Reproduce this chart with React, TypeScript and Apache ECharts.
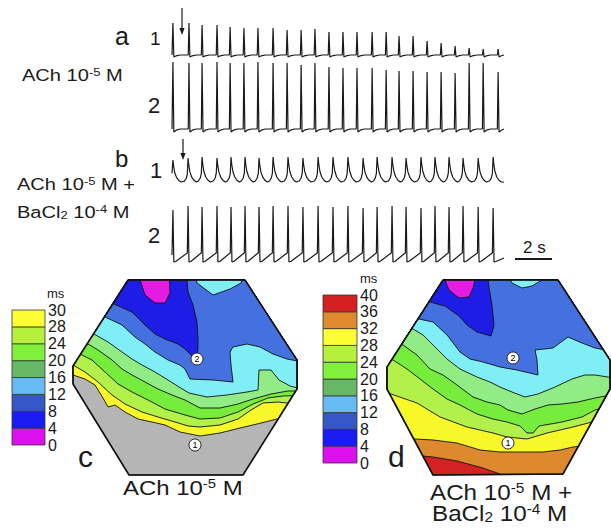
import React, { useEffect, useRef } from "react";
import * as echarts from "echarts";

// ---------- Trace data (time in s, amplitude in arbitrary units) ----------
const TRACE_SPAN_S = 18;
const A_BEAT_TIMES = [0.05, 0.92, 1.63, 2.44, 3.15, 3.9, 4.66, 5.48, 6.24, 7.0, 7.75, 8.51, 9.27, 10.03, 10.85, 11.61, 12.31, 13.07, 13.83, 14.59, 15.35, 16.11, 16.87, 17.68];
const A1_AMPLITUDES = [32, 32, 30, 30, 28, 27, 27, 27, 25, 25, 26, 23, 23, 23, 23, 23, 19, 19, 14, 12, 9, 7, 6, 6];
const A2_AMPLITUDES = [67, 66, 66, 67, 66, 66, 67, 66, 66, 64, 66, 62, 61, 61, 61, 59, 58, 58, 57, 57, 56, 66, 66, 57];
const B_BEAT_TIMES = [0.05, 0.87, 1.63, 2.44, 3.2, 3.96, 4.72, 5.48, 6.29, 7.1, 7.92, 8.73, 9.54, 10.36, 11.12, 11.93, 12.69, 13.5, 14.26, 15.02, 15.78, 16.6, 17.41];
const B1_AMPLITUDES = [22, 24, 25, 24, 25, 25, 24, 25, 25, 24, 25, 25, 25, 24, 25, 25, 24, 25, 25, 25, 24, 24, 25];
const B2_AMPLITUDES = [48, 52, 51, 52, 51, 52, 51, 52, 52, 51, 52, 51, 52, 50, 51, 52, 51, 50, 52, 51, 52, 51, 50];

// ---------- Activation maps (map coordinates, y downward) ----------
const HEX_C = [[55, 0], [172, 0], [224, 80], [224, 109], [170, 195], [56, 195], [0, 104], [0, 86]];
const HEX_D = [[56, 0], [171, 0], [223, 80], [223, 109], [176, 194], [46, 195], [0, 109], [0, 87]];

// isochrones: region above each line is earlier than the level (ms)
const C_ISO_4 = [[66, -10], [67, 0], [72, 15], [82, 23], [92, 23], [97, 13], [96, -10]];
const C_ISO_8 = [[-10, 18], [41, 24], [59, 32], [72, 45], [82, 54], [92, 59], [105, 64], [112, 69], [122, 79], [125, 70], [125, 59], [124, 42], [120, 25], [115, 12], [113, -10]];
const C_ISO_12 = [[-10, 33], [32, 37], [49, 45], [62, 57], [72, 64], [82, 72], [95, 80], [107, 85], [112, 89], [117, 99], [140, 100], [160, 102], [158, 85], [157, 72], [160, 67], [174, 64], [187, 67], [200, 74], [214, 79], [240, 84], [240, -10], [174, -10], [168, 3], [157, 9], [140, 15], [124, 3], [121, -10]];
const C_ISO_16 = [[-10, 50], [21, 54], [35, 62], [49, 72], [59, 79], [69, 85], [82, 92], [95, 100], [106, 107], [116, 113], [134, 117], [154, 115], [174, 112], [185, 110], [186, 90], [198, 90], [206, 100], [217, 106], [240, 112]];
const C_ISO_20 = [[-10, 60], [15, 64], [25, 70], [39, 80], [49, 89], [59, 95], [72, 102], [85, 109], [99, 115], [112, 120], [127, 128], [147, 128], [165, 124], [180, 119], [198, 114], [215, 111], [240, 111]];
const C_ISO_24 = [[-10, 72], [7, 74], [19, 80], [32, 92], [45, 104], [59, 112], [75, 120], [92, 129], [112, 135], [127, 139], [147, 138], [165, 132], [180, 124], [195, 118], [210, 116], [240, 115]];
const C_ISO_28 = [[-10, 82], [0, 85], [12, 92], [25, 102], [39, 115], [52, 124], [69, 132], [85, 137], [102, 142], [115, 146], [127, 147], [147, 145], [165, 139], [178, 130], [190, 123], [205, 122], [240, 126]];
const C_ISO_30 = [[-10, 92], [0, 95], [12, 99], [22, 105], [30, 118], [35, 127], [42, 125], [52, 132], [65, 139], [79, 142], [92, 145], [107, 152], [127, 156], [147, 153], [167, 148], [184, 144], [204, 139], [240, 133]];

const D_ISO_4 = [[56, -10], [58, 0], [62, 10], [72, 18], [82, 17], [86, 8], [88, 0], [88, -10]];
const D_ISO_8 = [[-10, 15], [43, 22], [58, 26], [72, 36], [80, 45], [90, 52], [104, 56], [107, 45], [105, 25], [102, 8], [100, -10]];
const D_ISO_12 = [[-10, 35], [32, 39], [46, 42], [60, 55], [73, 72], [83, 79], [96, 82], [113, 87], [130, 90], [151, 95], [150, 80], [148, 70], [166, 68], [181, 57], [195, 63], [208, 68], [240, 74], [240, -10], [160, -10], [155, 0], [145, 6], [135, 8], [125, 3], [118, -10]];
const D_ISO_16 = [[-10, 46], [26, 49], [36, 55], [46, 65], [60, 79], [73, 89], [90, 97], [103, 102], [113, 107], [125, 112], [138, 117], [151, 114], [168, 107], [185, 99], [198, 95], [208, 95], [240, 100]];
const D_ISO_20 = [[-10, 62], [16, 65], [30, 75], [43, 89], [56, 95], [70, 105], [86, 117], [100, 122], [113, 125], [121, 130], [135, 134], [148, 129], [161, 125], [175, 124], [191, 122], [208, 118], [240, 112]];
const D_ISO_24 = [[-10, 78], [6, 80], [20, 89], [33, 99], [46, 109], [60, 119], [73, 125], [90, 134], [106, 139], [120, 142], [133, 146], [140, 153], [146, 153], [152, 146], [175, 142], [195, 137], [208, 130], [240, 122]];
const D_ISO_28 = [[-10, 110], [1, 113], [30, 123], [53, 137], [80, 147], [106, 153], [120, 157], [140, 159], [160, 153], [186, 147], [205, 142], [240, 138]];
const D_ISO_32 = [[-10, 158], [28, 159], [46, 160], [70, 163], [93, 170], [113, 172], [133, 172], [156, 172], [173, 170], [186, 167], [240, 160]];
const D_ISO_36 = [[-10, 170], [36, 176], [46, 177], [70, 181], [96, 188], [113, 194], [130, 210], [250, 210], [250, -10]];

const C_SITES = [[124, 79], [122, 165]];
const D_SITES = [[126, 78], [121, 163]];
const SITE_LABELS = ["2", "1"];

// ---------- Colour scales ----------
const CB_C_LABELS = ["0", "4", "8", "12", "16", "20", "24", "28", "30"];
const CB_D_LABELS = ["0", "4", "8", "12", "16", "20", "24", "28", "32", "36", "40"];
const CB_COLORS = ["#dd11ee", "#1a1af2", "#3657c8", "#66bbf5", "#66b866", "#80f03a", "#b4f03c", "#ffff33", "#e08a30", "#d42020"];
const MAP_COLORS = ["#e31be3", "#1d1de6", "#4470e0", "#80eef5", "#92ec86", "#76ec3c", "#b2f04a", "#f7f72a", "#dd8a2e", "#d42222"];
const MAP_GRAY = "#b5b5b5";

const FONT = "'Liberation Sans', Arial, Helvetica, sans-serif";
const INK = "#1a1a1a";

// ---------- helpers ----------
function spikeTrace(times: number[], amps: number[], under: number) {
  const pts: number[][] = [[0, 0]];
  times.forEach((t, i) => {
    pts.push([t - 0.04, 0], [t, amps[i]], [t + 0.05, -under], [t + 0.18, -under * 0.4], [t + 0.4, 0]);
  });
  pts.push([TRACE_SPAN_S, 0]);
  return pts.filter((p) => p[0] >= 0 && p[0] <= TRACE_SPAN_S);
}
function slowTrace(times: number[], amps: number[]) {
  const pts: number[][] = [[0, amps[0] * 0.4]];
  times.forEach((t, i) => {
    const A = amps[i];
    const tn = i + 1 < times.length ? times[i + 1] : TRACE_SPAN_S + 1;
    pts.push([t, A], [t + 0.04, A * 0.7], [t + 0.1, A * 0.42], [t + 0.2, A * 0.2], [t + 0.32, A * 0.07], [t + 0.45, 0]);
    pts.push([tn - 0.2, A * 0.04], [tn - 0.1, A * 0.16], [tn - 0.04, A * 0.35]);
  });
  const out = pts.filter((p) => p[0] >= 0 && p[0] <= TRACE_SPAN_S);
  out.push([TRACE_SPAN_S, 0]);
  return out;
}
function notchTrace(times: number[], amps: number[]) {
  const pts: number[][] = [[0, 3]];
  times.forEach((t, i) => {
    const A = amps[i];
    const tn = i + 1 < times.length ? times[i + 1] : TRACE_SPAN_S + 1;
    pts.push([t, A], [t + 0.05, -4], [t + 0.15, -3.5], [tn - 0.12, 4], [tn - 0.04, 5]);
  });
  const out = pts.filter((p) => p[0] >= 0 && p[0] <= TRACE_SPAN_S);
  out.push([TRACE_SPAN_S, 0]);
  return out;
}

function clipPoly(subject: number[][], clip: number[][]) {
  let area = 0;
  for (let i = 0; i < clip.length; i++) {
    const a = clip[i], b = clip[(i + 1) % clip.length];
    area += a[0] * b[1] - b[0] * a[1];
  }
  const sgn = area > 0 ? 1 : -1;
  let output = subject.slice();
  for (let i = 0; i < clip.length && output.length; i++) {
    const a = clip[i], b = clip[(i + 1) % clip.length];
    const side = (p: number[]) => sgn * ((b[0] - a[0]) * (p[1] - a[1]) - (b[1] - a[1]) * (p[0] - a[0]));
    const input = output;
    output = [];
    for (let j = 0; j < input.length; j++) {
      const cur = input[j], prev = input[(j + input.length - 1) % input.length];
      const dc = side(cur), dp = side(prev);
      const inter = () => {
        const t = dp / (dp - dc);
        return [prev[0] + t * (cur[0] - prev[0]), prev[1] + t * (cur[1] - prev[1])];
      };
      if (dc >= 0) {
        if (dp < 0) output.push(inter());
        output.push(cur);
      } else if (dp >= 0) {
        output.push(inter());
      }
    }
  }
  return output;
}

const closeAbove = (line: number[][]) => [[line[0][0], -60], ...line, [line[line.length - 1][0], -60]];

type Region = { poly: number[][]; fill: string; width: number };
const C_REGIONS: Region[] = [
  { poly: HEX_C, fill: MAP_GRAY, width: 0.9 },
  { poly: closeAbove(C_ISO_30), fill: MAP_COLORS[7], width: 0.9 },
  { poly: closeAbove(C_ISO_28), fill: MAP_COLORS[6], width: 0.9 },
  { poly: closeAbove(C_ISO_24), fill: MAP_COLORS[5], width: 0.9 },
  { poly: closeAbove(C_ISO_20), fill: MAP_COLORS[4], width: 0.9 },
  { poly: closeAbove(C_ISO_16), fill: MAP_COLORS[3], width: 0.9 },
  { poly: closeAbove(C_ISO_12), fill: MAP_COLORS[2], width: 0.9 },
  { poly: closeAbove(C_ISO_8), fill: MAP_COLORS[1], width: 0.9 },
  { poly: closeAbove(C_ISO_4), fill: MAP_COLORS[0], width: 0.9 },
  { poly: HEX_C, fill: "none", width: 1.6 },
];
const D_REGIONS: Region[] = [
  { poly: HEX_D, fill: MAP_COLORS[9], width: 0.9 },
  { poly: closeAbove(D_ISO_36), fill: MAP_COLORS[8], width: 0.9 },
  { poly: closeAbove(D_ISO_32), fill: MAP_COLORS[7], width: 0.9 },
  { poly: closeAbove(D_ISO_28), fill: MAP_COLORS[6], width: 0.9 },
  { poly: closeAbove(D_ISO_24), fill: MAP_COLORS[5], width: 0.9 },
  { poly: closeAbove(D_ISO_20), fill: MAP_COLORS[4], width: 0.9 },
  { poly: closeAbove(D_ISO_16), fill: MAP_COLORS[3], width: 0.9 },
  { poly: closeAbove(D_ISO_12), fill: MAP_COLORS[2], width: 0.9 },
  { poly: closeAbove(D_ISO_8), fill: MAP_COLORS[1], width: 0.9 },
  { poly: closeAbove(D_ISO_4), fill: MAP_COLORS[0], width: 0.9 },
  { poly: HEX_D, fill: "none", width: 1.6 },
];

function richText(x: number, y: number, text: string, fs: number, scaleX = 1) {
  const small = Math.round(fs * 0.62);
  return {
    type: "text",
    x,
    y,
    scaleX,
    z: 100,
    style: {
      text,
      fill: INK,
      fontSize: fs,
      fontFamily: FONT,
      align: "left",
      verticalAlign: "middle",
      textAlign: "left",
      textVerticalAlign: "middle",
      rich: {
        n: { fontSize: fs, fontFamily: FONT, fill: INK, lineHeight: fs },
        s: { fontSize: small, fontFamily: FONT, fill: INK, verticalAlign: "top" },
        b: { fontSize: small, fontFamily: FONT, fill: INK, verticalAlign: "bottom" },
      },
    },
  };
}

function arrow(x: number, y0: number, y1: number) {
  return {
    type: "group",
    z: 100,
    children: [
      { type: "line", shape: { x1: x, y1: y0, x2: x, y2: y1 - 4 }, style: { stroke: INK, lineWidth: 1.2 } },
      { type: "polygon", shape: { points: [[x - 2.6, y1 - 7], [x + 2.6, y1 - 7], [x, y1]] }, style: { fill: INK } },
    ],
  };
}

export default function App() {
  const ref = useRef<HTMLDivElement>(null);
  useEffect(() => {
    if (!ref.current) return;
    const chart = echarts.init(ref.current, undefined, { renderer: "svg" });

    const traceGrids = [
      { left: 172, top: 15, width: 332, height: 45, min: -5, max: 40 },
      { left: 172, top: 60, width: 332, height: 75, min: -6, max: 69 },
      { left: 172, top: 148, width: 332, height: 42, min: -8, max: 34 },
      { left: 172, top: 200, width: 332, height: 65, min: -7, max: 58 },
    ];
    const traceData = [
      spikeTrace(A_BEAT_TIMES, A1_AMPLITUDES, 2),
      spikeTrace(A_BEAT_TIMES, A2_AMPLITUDES, 3),
      slowTrace(B_BEAT_TIMES, B1_AMPLITUDES),
      notchTrace(B_BEAT_TIMES, B2_AMPLITUDES),
    ];

    const grids: any[] = traceGrids.map((g) => ({ left: g.left, top: g.top, width: g.width, height: g.height }));
    grids.push({ left: 73, top: 280, width: 224, height: 195 });
    grids.push({ left: 387, top: 280, width: 223, height: 195 });
    grids.push({ left: 12, top: 310, width: 33, height: 135 });
    grids.push({ left: 323, top: 295, width: 34, height: 168 });

    const hidden = { show: false };
    const xAxes: any[] = traceGrids.map((_, i) => ({ gridIndex: i, type: "value", min: 0, max: TRACE_SPAN_S, show: false }));
    xAxes.push({ gridIndex: 4, type: "value", min: 0, max: 224, show: false });
    xAxes.push({ gridIndex: 5, type: "value", min: 0, max: 223, show: false });
    xAxes.push({ gridIndex: 6, type: "value", min: 0, max: 1, show: false });
    xAxes.push({ gridIndex: 7, type: "value", min: 0, max: 1, show: false });

    const cbAxis = (gridIndex: number, labels: string[]) => ({
      gridIndex,
      type: "value",
      min: 0,
      max: labels.length - 1,
      interval: 1,
      position: "right",
      axisLine: hidden,
      axisTick: hidden,
      splitLine: hidden,
      axisLabel: {
        show: true,
        showMinLabel: true,
        showMaxLabel: true,
        margin: 3,
        fontSize: 16,
        fontFamily: FONT,
        color: INK,
        formatter: (v: number) => labels[Math.round(v)] ?? "",
      },
    });
    const yAxes: any[] = traceGrids.map((g, i) => ({ gridIndex: i, type: "value", min: g.min, max: g.max, show: false }));
    yAxes.push({ gridIndex: 4, type: "value", min: 0, max: 195, inverse: true, show: false });
    yAxes.push({ gridIndex: 5, type: "value", min: 0, max: 195, inverse: true, show: false });
    yAxes.push(cbAxis(6, CB_C_LABELS));
    yAxes.push(cbAxis(7, CB_D_LABELS));

    const series: any[] = traceData.map((d, i) => ({
      type: "line",
      xAxisIndex: i,
      yAxisIndex: i,
      data: d,
      showSymbol: false,
      silent: true,
      lineStyle: { color: INK, width: 1.2 },
    }));

    const mapSeries = (idx: number, regions: Region[], hex: number[][]) => ({
      type: "custom",
      xAxisIndex: idx,
      yAxisIndex: idx,
      silent: true,
      data: regions.map(() => [0, 0]),
      renderItem: (params: any, api: any) => {
        const r = regions[params.dataIndex];
        const pts = clipPoly(r.poly, hex).map((p) => api.coord(p));
        return {
          type: "polygon",
          shape: { points: pts },
          style: { fill: r.fill, stroke: "#111", lineWidth: r.width, lineJoin: "round" },
        };
      },
    });
    const siteSeries = (idx: number, sites: number[][]) => ({
      type: "scatter",
      xAxisIndex: idx,
      yAxisIndex: idx,
      silent: true,
      z: 5,
      symbolSize: 12,
      itemStyle: { color: "#fff", borderColor: "#222", borderWidth: 1, opacity: 1 },
      label: { show: true, position: "inside", formatter: "{b}", fontSize: 9, color: "#000", fontFamily: FONT },
      data: sites.map((s, i) => ({ value: s, name: SITE_LABELS[i] })),
    });
    const cbSeries = (idx: number, n: number) => ({
      type: "custom",
      xAxisIndex: idx,
      yAxisIndex: idx,
      silent: true,
      data: CB_COLORS.slice(0, n).map((_, i) => [0.5, i + 0.5]),
      renderItem: (params: any, api: any) => {
        const i = params.dataIndex;
        const p0 = api.coord([0, i + 1]);
        const p1 = api.coord([1, i]);
        return {
          type: "rect",
          shape: { x: p0[0], y: p0[1], width: p1[0] - p0[0], height: p1[1] - p0[1] },
          style: { fill: CB_COLORS[i], stroke: "#333", lineWidth: 0.8 },
        };
      },
    });

    series.push(mapSeries(4, C_REGIONS, HEX_C), siteSeries(4, C_SITES));
    series.push(mapSeries(5, D_REGIONS, HEX_D), siteSeries(5, D_SITES));
    series.push(cbSeries(6, CB_C_LABELS.length - 1), cbSeries(7, CB_D_LABELS.length - 1));

    const graphic: any[] = [
      richText(115, 36, "a", 25),
      richText(150, 38.5, "1", 19),
      richText(148, 105.5, "2", 22),
      richText(115, 158.5, "b", 24),
      richText(150, 170.5, "1", 22),
      richText(148, 235.5, "2", 22),
      richText(22, 75, "{n|ACh 10}{s|-5}{n| M}", 17, 1.18),
      richText(17, 184, "{n|ACh 10}{s|-5}{n| M +}", 17, 1.18),
      richText(17, 212, "{n|BaCl}{b|2}{n| 10}{s|-4}{n| M}", 17, 1.18),
      richText(523, 247, "2 s", 17),
      { type: "line", z: 100, shape: { x1: 515, y1: 259, x2: 552, y2: 259 }, style: { stroke: INK, lineWidth: 2 } },
      arrow(182, 8, 35),
      arrow(183, 139, 160),
      richText(47, 293, "ms", 13),
      richText(360, 278, "ms", 13),
      richText(78, 456.5, "c", 30),
      richText(388, 456.5, "d", 30),
      richText(123, 487.6, "{n|ACh 10}{s|-5}{n| M}", 21, 1.14),
      richText(430, 492.3, "{n|ACh 10}{s|-5}{n| M +}", 22, 1.1),
      richText(432, 513.3, "{n|BaCl}{b|2}{n| 10}{s|-4}{n| M}", 22, 1.1),
    ];

    chart.setOption({
      animation: false,
      backgroundColor: "#ffffff",
      grid: grids,
      xAxis: xAxes,
      yAxis: yAxes,
      series,
      graphic,
    });
    return () => chart.dispose();
  }, []);

  return <div ref={ref} style={{ position: "fixed", left: 0, top: 0, width: 611, height: 530 }} />;
}
